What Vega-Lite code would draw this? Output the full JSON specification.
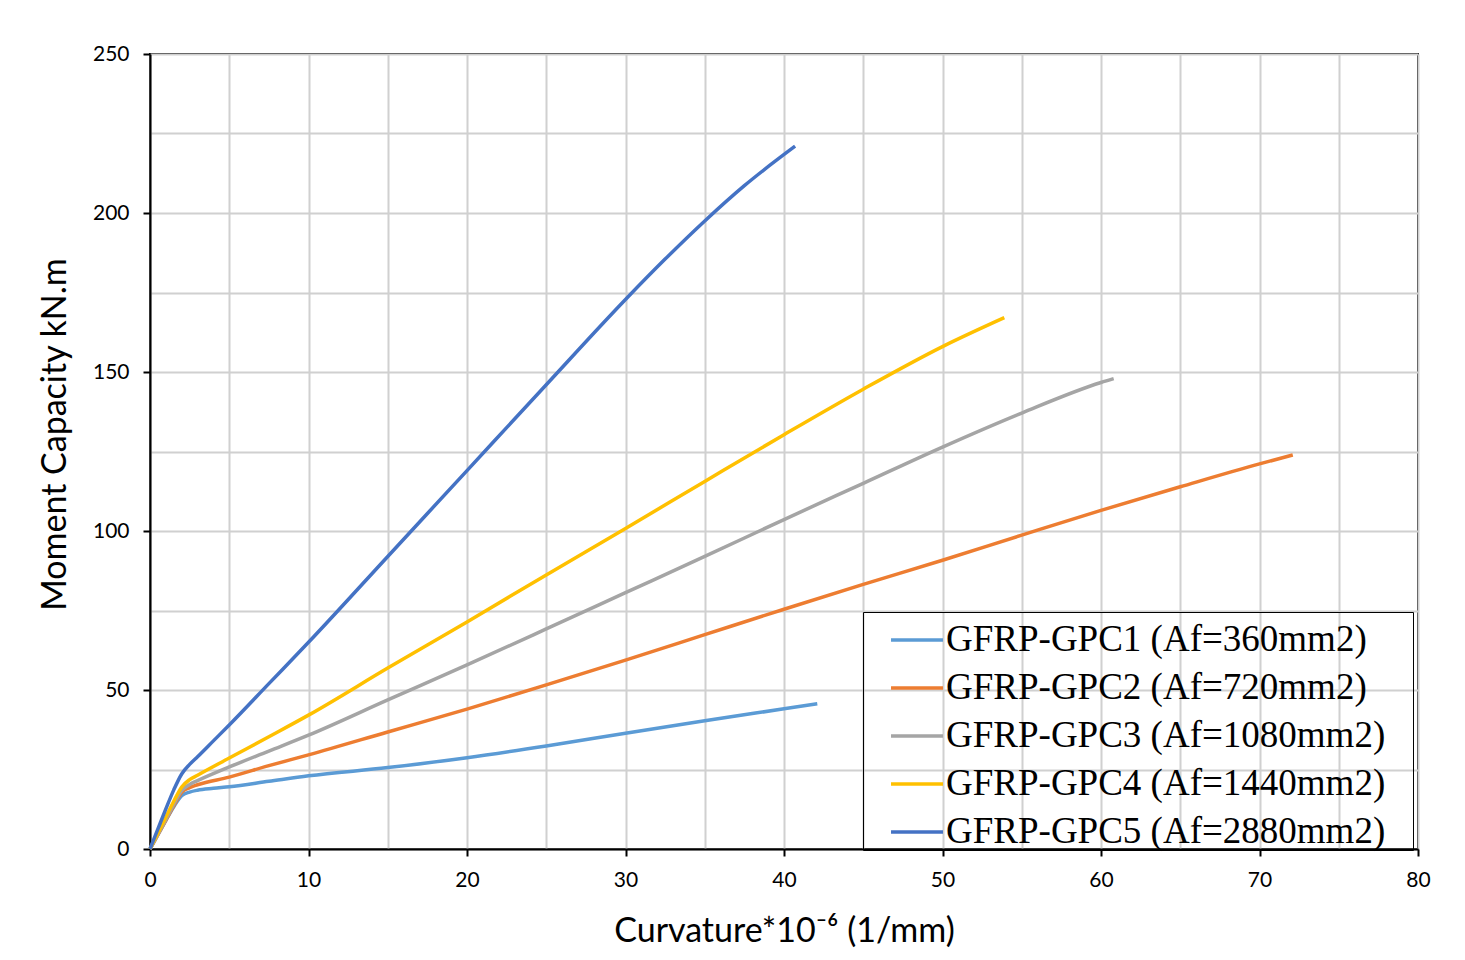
{
  "$schema": "https://vega.github.io/schema/vega-lite/v6.json",
  "width": 1268,
  "height": 795,
  "autosize": {"type": "none"},
  "padding": {"left": 150, "top": 54, "right": 47, "bottom": 111},
  "background": "white",
  "config": {
    "view": {"stroke": "black", "strokeWidth": 2},
    "axis": {"labelFont": "Lato", "titleFont": "Lato", "labelColor": "black", "titleColor": "black", "domainColor": "black", "domainWidth": 2, "tickColor": "black", "tickWidth": 2, "tickSize": 7, "gridColor": "#d0d0d0", "gridWidth": 2, "labelFontSize": 21, "titleFontSize": 34, "titleFontWeight": "normal"}
  },
  "data": {"values": [
    {"s": "GFRP-GPC1 (Af=360mm2)", "x": 0, "y": 0},
    {"s": "GFRP-GPC1 (Af=360mm2)", "x": 0.5, "y": 4.5},
    {"s": "GFRP-GPC1 (Af=360mm2)", "x": 1, "y": 9},
    {"s": "GFRP-GPC1 (Af=360mm2)", "x": 1.5, "y": 13.3},
    {"s": "GFRP-GPC1 (Af=360mm2)", "x": 2, "y": 16.8},
    {"s": "GFRP-GPC1 (Af=360mm2)", "x": 2.5, "y": 17.9},
    {"s": "GFRP-GPC1 (Af=360mm2)", "x": 3, "y": 18.5},
    {"s": "GFRP-GPC1 (Af=360mm2)", "x": 4, "y": 19.1},
    {"s": "GFRP-GPC1 (Af=360mm2)", "x": 5, "y": 19.6},
    {"s": "GFRP-GPC1 (Af=360mm2)", "x": 7.5, "y": 21.3},
    {"s": "GFRP-GPC1 (Af=360mm2)", "x": 10, "y": 23},
    {"s": "GFRP-GPC1 (Af=360mm2)", "x": 15, "y": 25.6},
    {"s": "GFRP-GPC1 (Af=360mm2)", "x": 20, "y": 28.7},
    {"s": "GFRP-GPC1 (Af=360mm2)", "x": 25, "y": 32.4},
    {"s": "GFRP-GPC1 (Af=360mm2)", "x": 30, "y": 36.4},
    {"s": "GFRP-GPC1 (Af=360mm2)", "x": 35, "y": 40.3},
    {"s": "GFRP-GPC1 (Af=360mm2)", "x": 40, "y": 44.1},
    {"s": "GFRP-GPC1 (Af=360mm2)", "x": 42.1, "y": 45.7},
    {"s": "GFRP-GPC2 (Af=720mm2)", "x": 0, "y": 0},
    {"s": "GFRP-GPC2 (Af=720mm2)", "x": 0.5, "y": 4.5},
    {"s": "GFRP-GPC2 (Af=720mm2)", "x": 1, "y": 9},
    {"s": "GFRP-GPC2 (Af=720mm2)", "x": 1.5, "y": 13.6},
    {"s": "GFRP-GPC2 (Af=720mm2)", "x": 2, "y": 17.8},
    {"s": "GFRP-GPC2 (Af=720mm2)", "x": 2.5, "y": 19.3},
    {"s": "GFRP-GPC2 (Af=720mm2)", "x": 3, "y": 20.2},
    {"s": "GFRP-GPC2 (Af=720mm2)", "x": 5, "y": 22.6},
    {"s": "GFRP-GPC2 (Af=720mm2)", "x": 7.5, "y": 26.2},
    {"s": "GFRP-GPC2 (Af=720mm2)", "x": 10, "y": 29.6},
    {"s": "GFRP-GPC2 (Af=720mm2)", "x": 15, "y": 36.8},
    {"s": "GFRP-GPC2 (Af=720mm2)", "x": 20, "y": 44},
    {"s": "GFRP-GPC2 (Af=720mm2)", "x": 25, "y": 51.6},
    {"s": "GFRP-GPC2 (Af=720mm2)", "x": 30, "y": 59.4},
    {"s": "GFRP-GPC2 (Af=720mm2)", "x": 35, "y": 67.4},
    {"s": "GFRP-GPC2 (Af=720mm2)", "x": 40, "y": 75.4},
    {"s": "GFRP-GPC2 (Af=720mm2)", "x": 45, "y": 83.2},
    {"s": "GFRP-GPC2 (Af=720mm2)", "x": 50, "y": 90.8},
    {"s": "GFRP-GPC2 (Af=720mm2)", "x": 55, "y": 98.7},
    {"s": "GFRP-GPC2 (Af=720mm2)", "x": 60, "y": 106.5},
    {"s": "GFRP-GPC2 (Af=720mm2)", "x": 65, "y": 113.9},
    {"s": "GFRP-GPC2 (Af=720mm2)", "x": 70, "y": 121.1},
    {"s": "GFRP-GPC2 (Af=720mm2)", "x": 72.1, "y": 123.9},
    {"s": "GFRP-GPC3 (Af=1080mm2)", "x": 0, "y": 0},
    {"s": "GFRP-GPC3 (Af=1080mm2)", "x": 0.5, "y": 4.6},
    {"s": "GFRP-GPC3 (Af=1080mm2)", "x": 1, "y": 9.3},
    {"s": "GFRP-GPC3 (Af=1080mm2)", "x": 1.5, "y": 14.1},
    {"s": "GFRP-GPC3 (Af=1080mm2)", "x": 2, "y": 18.4},
    {"s": "GFRP-GPC3 (Af=1080mm2)", "x": 2.5, "y": 20.3},
    {"s": "GFRP-GPC3 (Af=1080mm2)", "x": 3, "y": 21.5},
    {"s": "GFRP-GPC3 (Af=1080mm2)", "x": 5, "y": 25.8},
    {"s": "GFRP-GPC3 (Af=1080mm2)", "x": 7.5, "y": 30.8},
    {"s": "GFRP-GPC3 (Af=1080mm2)", "x": 10, "y": 35.8},
    {"s": "GFRP-GPC3 (Af=1080mm2)", "x": 15, "y": 46.9},
    {"s": "GFRP-GPC3 (Af=1080mm2)", "x": 20, "y": 57.9},
    {"s": "GFRP-GPC3 (Af=1080mm2)", "x": 25, "y": 69.2},
    {"s": "GFRP-GPC3 (Af=1080mm2)", "x": 30, "y": 80.6},
    {"s": "GFRP-GPC3 (Af=1080mm2)", "x": 35, "y": 92},
    {"s": "GFRP-GPC3 (Af=1080mm2)", "x": 40, "y": 103.6},
    {"s": "GFRP-GPC3 (Af=1080mm2)", "x": 45, "y": 115},
    {"s": "GFRP-GPC3 (Af=1080mm2)", "x": 50, "y": 126.4},
    {"s": "GFRP-GPC3 (Af=1080mm2)", "x": 55, "y": 137.1},
    {"s": "GFRP-GPC3 (Af=1080mm2)", "x": 60, "y": 146.7},
    {"s": "GFRP-GPC3 (Af=1080mm2)", "x": 60.8, "y": 147.9},
    {"s": "GFRP-GPC4 (Af=1440mm2)", "x": 0, "y": 0},
    {"s": "GFRP-GPC4 (Af=1440mm2)", "x": 0.5, "y": 5},
    {"s": "GFRP-GPC4 (Af=1440mm2)", "x": 1, "y": 10},
    {"s": "GFRP-GPC4 (Af=1440mm2)", "x": 1.5, "y": 15},
    {"s": "GFRP-GPC4 (Af=1440mm2)", "x": 2, "y": 19.5},
    {"s": "GFRP-GPC4 (Af=1440mm2)", "x": 2.5, "y": 21.8},
    {"s": "GFRP-GPC4 (Af=1440mm2)", "x": 3, "y": 23.2},
    {"s": "GFRP-GPC4 (Af=1440mm2)", "x": 5, "y": 28.6},
    {"s": "GFRP-GPC4 (Af=1440mm2)", "x": 7.5, "y": 35.3},
    {"s": "GFRP-GPC4 (Af=1440mm2)", "x": 10, "y": 42.1},
    {"s": "GFRP-GPC4 (Af=1440mm2)", "x": 15, "y": 56.9},
    {"s": "GFRP-GPC4 (Af=1440mm2)", "x": 20, "y": 71.4},
    {"s": "GFRP-GPC4 (Af=1440mm2)", "x": 25, "y": 86.2},
    {"s": "GFRP-GPC4 (Af=1440mm2)", "x": 30, "y": 100.8},
    {"s": "GFRP-GPC4 (Af=1440mm2)", "x": 35, "y": 115.6},
    {"s": "GFRP-GPC4 (Af=1440mm2)", "x": 40, "y": 130.3},
    {"s": "GFRP-GPC4 (Af=1440mm2)", "x": 45, "y": 144.6},
    {"s": "GFRP-GPC4 (Af=1440mm2)", "x": 50, "y": 158},
    {"s": "GFRP-GPC4 (Af=1440mm2)", "x": 53.9, "y": 167.1},
    {"s": "GFRP-GPC5 (Af=2880mm2)", "x": 0, "y": 0},
    {"s": "GFRP-GPC5 (Af=2880mm2)", "x": 0.5, "y": 6.3},
    {"s": "GFRP-GPC5 (Af=2880mm2)", "x": 1, "y": 12.6},
    {"s": "GFRP-GPC5 (Af=2880mm2)", "x": 1.5, "y": 18.6},
    {"s": "GFRP-GPC5 (Af=2880mm2)", "x": 2, "y": 23.6},
    {"s": "GFRP-GPC5 (Af=2880mm2)", "x": 2.5, "y": 26.6},
    {"s": "GFRP-GPC5 (Af=2880mm2)", "x": 3, "y": 29},
    {"s": "GFRP-GPC5 (Af=2880mm2)", "x": 4, "y": 34},
    {"s": "GFRP-GPC5 (Af=2880mm2)", "x": 5, "y": 39},
    {"s": "GFRP-GPC5 (Af=2880mm2)", "x": 7.5, "y": 52},
    {"s": "GFRP-GPC5 (Af=2880mm2)", "x": 10, "y": 65},
    {"s": "GFRP-GPC5 (Af=2880mm2)", "x": 15, "y": 92},
    {"s": "GFRP-GPC5 (Af=2880mm2)", "x": 20, "y": 119},
    {"s": "GFRP-GPC5 (Af=2880mm2)", "x": 25, "y": 146},
    {"s": "GFRP-GPC5 (Af=2880mm2)", "x": 30, "y": 172.8},
    {"s": "GFRP-GPC5 (Af=2880mm2)", "x": 32.5, "y": 185.5},
    {"s": "GFRP-GPC5 (Af=2880mm2)", "x": 35, "y": 197.5},
    {"s": "GFRP-GPC5 (Af=2880mm2)", "x": 37.5, "y": 208.6},
    {"s": "GFRP-GPC5 (Af=2880mm2)", "x": 40.7, "y": 221}
  ]},
  "mark": {"type": "line", "strokeWidth": 3.5, "interpolate": "monotone"},
  "encoding": {
    "x": {"field": "x", "type": "quantitative", "scale": {"domain": [0, 80], "nice": false},
      "axis": {"title": "Curvature*10⁻⁶ (1/mm)", "values": [0,5,10,15,20,25,30,35,40,45,50,55,60,65,70,75,80],
        "labelExpr": "datum.value % 10 === 0 ? datum.label : ''",
        "tickOpacity": {"condition": {"test": "datum.value % 10 === 0", "value": 1}, "value": 0},
        "labelPadding": 13, "titlePadding": 24, "labelFlush": false}},
    "y": {"field": "y", "type": "quantitative", "scale": {"domain": [0, 250], "nice": false},
      "axis": {"title": "Moment Capacity kN.m", "values": [0,25,50,75,100,125,150,175,200,225,250],
        "labelExpr": "datum.value % 50 === 0 ? datum.label : ''",
        "tickOpacity": {"condition": {"test": "datum.value % 50 === 0", "value": 1}, "value": 0},
        "labelPadding": 14, "titlePadding": 20, "titleY": 380, "labelFlush": false}},
    "color": {"field": "s", "type": "nominal",
      "scale": {"domain": ["GFRP-GPC1 (Af=360mm2)", "GFRP-GPC2 (Af=720mm2)", "GFRP-GPC3 (Af=1080mm2)", "GFRP-GPC4 (Af=1440mm2)", "GFRP-GPC5 (Af=2880mm2)"],
        "range": ["#5B9BD5", "#ED7D31", "#A5A5A5", "#FFC000", "#4472C4"]},
      "legend": {"title": null, "orient": "none", "legendX": 713, "legendY": 558,
        "strokeColor": "black", "padding": 0, "symbolOffset": 26,
        "symbolType": "stroke", "symbolSize": 2700, "symbolStrokeWidth": 3.5,
        "labelFont": "Liberation Serif", "labelFontSize": 37, "labelColor": "black", "labelOffset": 1,
        "labelExpr": "datum.label + '\u2800'",
        "rowPadding": 2, "labelLimit": 700}}
  }
}
